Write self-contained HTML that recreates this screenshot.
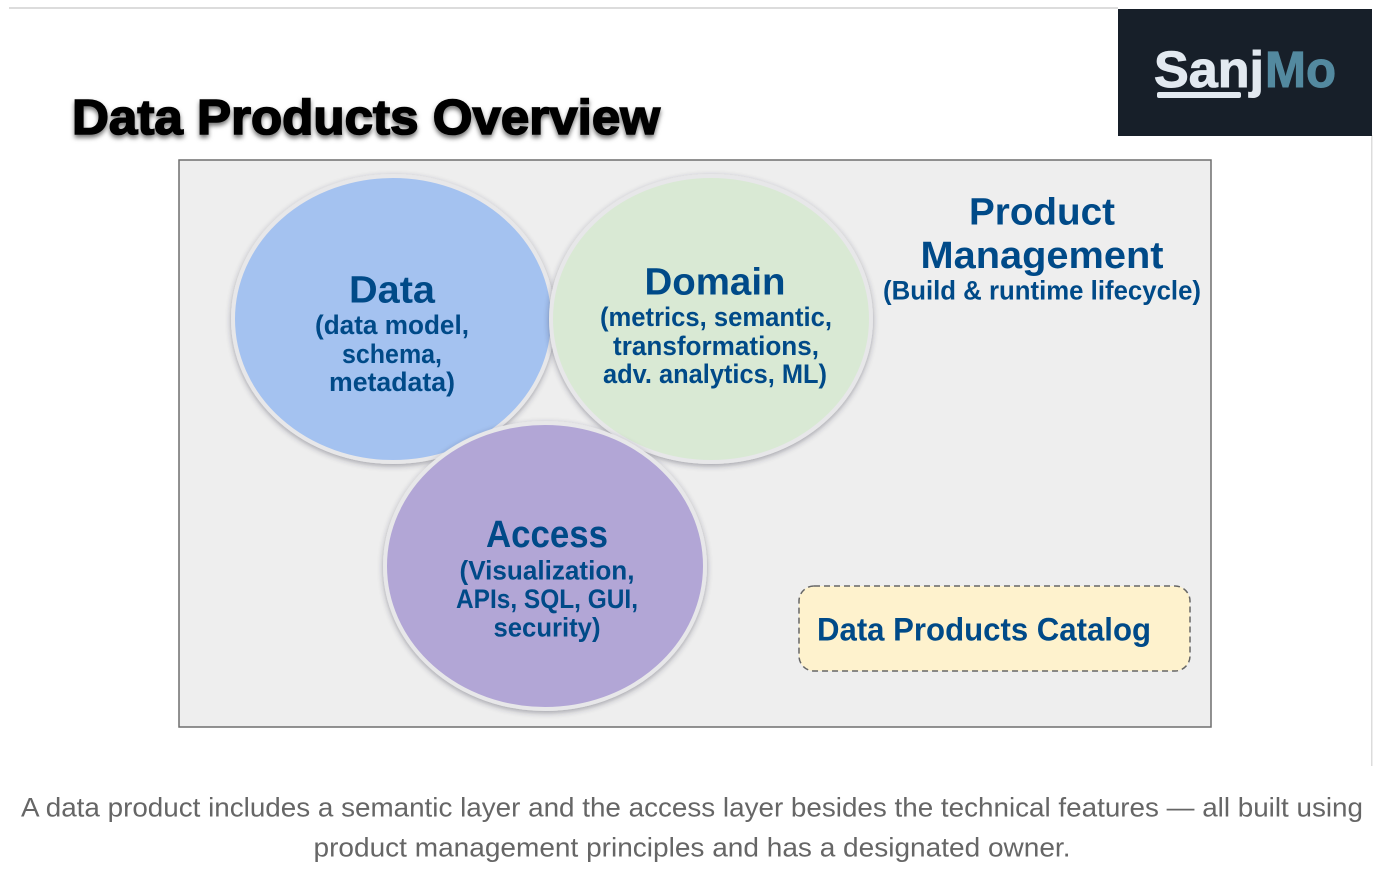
<!DOCTYPE html>
<html>
<head>
<meta charset="utf-8">
<style>
html,body{margin:0;padding:0;background:#fff;width:1376px;height:878px;overflow:hidden}
svg{display:block}
text{font-family:"Liberation Sans",sans-serif}
.b{fill:#004a88;font-weight:bold;text-anchor:middle}
.c{fill:#666666;font-size:27px;text-anchor:middle}
</style>
</head>
<body>
<svg width="1376" height="878" viewBox="0 0 1376 878" xmlns="http://www.w3.org/2000/svg">
<defs>
<filter id="s" x="-10%" y="-10%" width="120%" height="120%"><feDropShadow dx="0" dy="2" stdDeviation="3" flood-color="#334" flood-opacity=".4"/></filter>
<filter id="t" x="-5%" y="-20%" width="110%" height="150%"><feDropShadow dx="0" dy="3" stdDeviation="2.5" flood-color="#000" flood-opacity=".55"/></filter>
</defs>
<rect x="9" y="7" width="1109" height="2" fill="#dcdcdc"/>
<rect x="1371" y="135" width="1.5" height="631" fill="#dcdcdc"/>
<rect x="1118" y="9" width="254" height="127" fill="#171f29"/>
<text x="1154" y="87" font-size="51" font-weight="bold" fill="#e2e9f0" stroke="#e2e9f0" stroke-width="1" textLength="110" lengthAdjust="spacingAndGlyphs">Sanj</text>
<rect x="1157" y="92" width="84" height="6" rx="2" fill="#e2e9f0"/>
<text x="1265" y="87" font-size="51" font-weight="bold" fill="#53899f" stroke="#53899f" stroke-width="1" textLength="71" lengthAdjust="spacingAndGlyphs">Mo</text>
<text x="72" y="134" font-size="49" font-weight="bold" fill="#000" stroke="#000" stroke-width="1.6" filter="url(#t)" textLength="588" lengthAdjust="spacingAndGlyphs">Data Products Overview</text>
<rect x="179" y="160" width="1032" height="567" fill="#eeeeee" stroke="#6f6f6f" stroke-width="1.5"/>
<ellipse cx="393" cy="319" rx="160" ry="143" fill="#a4c2f0" stroke="#e7e7e9" stroke-width="4" filter="url(#s)"/>
<ellipse cx="711" cy="319" rx="160" ry="143" fill="#d9e9d4" stroke="#e7e7e9" stroke-width="4" filter="url(#s)"/>
<ellipse cx="545" cy="566" rx="160" ry="143" fill="#b2a6d6" stroke="#e7e7e9" stroke-width="4" filter="url(#s)"/>
<text class="b" x="392" y="302.5" font-size="38" textLength="86" lengthAdjust="spacingAndGlyphs">Data</text>
<text class="b" x="392" y="334" font-size="27" textLength="154" lengthAdjust="spacingAndGlyphs">(data model,</text>
<text class="b" x="392" y="363" font-size="27" textLength="100" lengthAdjust="spacingAndGlyphs">schema,</text>
<text class="b" x="392" y="391" font-size="27" textLength="126" lengthAdjust="spacingAndGlyphs">metadata)</text>
<text class="b" x="715" y="294.5" font-size="38" textLength="141" lengthAdjust="spacingAndGlyphs">Domain</text>
<text class="b" x="716" y="326" font-size="27" textLength="232" lengthAdjust="spacingAndGlyphs">(metrics, semantic,</text>
<text class="b" x="716" y="355" font-size="27" textLength="206" lengthAdjust="spacingAndGlyphs">transformations,</text>
<text class="b" x="715" y="383" font-size="27" textLength="224" lengthAdjust="spacingAndGlyphs">adv. analytics, ML)</text>
<text class="b" x="547" y="547" font-size="38" textLength="122" lengthAdjust="spacingAndGlyphs">Access</text>
<text class="b" x="547" y="579.5" font-size="27" textLength="175" lengthAdjust="spacingAndGlyphs">(Visualization,</text>
<text class="b" x="547" y="608" font-size="27" textLength="182" lengthAdjust="spacingAndGlyphs">APIs, SQL, GUI,</text>
<text class="b" x="547" y="636.5" font-size="27" textLength="107" lengthAdjust="spacingAndGlyphs">security)</text>
<text class="b" x="1042" y="224.5" font-size="38" textLength="146" lengthAdjust="spacingAndGlyphs">Product</text>
<text class="b" x="1042" y="268" font-size="38" textLength="243" lengthAdjust="spacingAndGlyphs">Management</text>
<text class="b" x="1042" y="299.5" font-size="27" textLength="318" lengthAdjust="spacingAndGlyphs">(Build &amp; runtime lifecycle)</text>
<rect x="799" y="586" width="391" height="85" rx="15" fill="#fef2cd" stroke="#666" stroke-width="1.5" stroke-dasharray="6 4"/>
<text x="817" y="640.5" font-size="32" font-weight="bold" fill="#004a88" textLength="334" lengthAdjust="spacingAndGlyphs">Data Products Catalog</text>
<text class="c" x="692" y="816.5" textLength="1342" lengthAdjust="spacingAndGlyphs">A data product includes a semantic layer and the access layer besides the technical features — all built using</text>
<text class="c" x="692" y="856.5" textLength="757" lengthAdjust="spacingAndGlyphs">product management principles and has a designated owner.</text>
</svg>
</body>
</html>
